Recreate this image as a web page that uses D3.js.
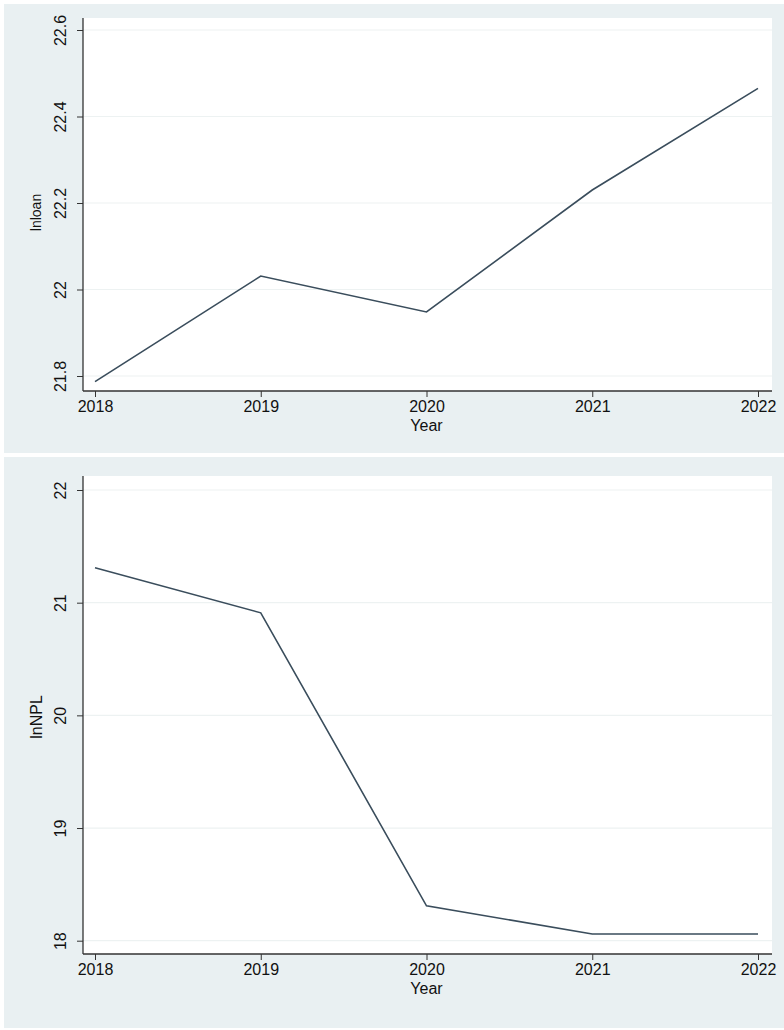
<!DOCTYPE html>
<html>
<head>
<meta charset="utf-8">
<script src="https://cdn.jsdelivr.net/npm/d3@7"></script>
<style>
  body { margin: 0; background: #fff; }
  svg text { font-family: "Liberation Sans", Arial, sans-serif; fill: #111; }
</style>
</head>
<body>
<svg id="chart" width="784" height="1030"></svg>
<script>
const years = [2018, 2019, 2020, 2021, 2022];
const lnloan = [21.787, 22.031, 21.948, 22.230, 22.465];
const lnNPL = [21.31, 20.91, 18.31, 18.06, 18.06];
const loanTicks = [21.8, 22, 22.2, 22.4, 22.6];
const nplTicks = [18, 19, 20, 21, 22];

const svg = d3.select('#chart');

// one Stata-style panel per series
const drawPanel = (cfg) => {
  const g = svg.append('g');

  g.append('rect')
    .attr('x', cfg.bx).attr('y', cfg.by)
    .attr('width', cfg.bw).attr('height', cfg.bh)
    .attr('fill', '#e9f0f2');

  g.append('rect')
    .attr('x', cfg.left).attr('y', cfg.top)
    .attr('width', cfg.right - cfg.left).attr('height', cfg.bottom - cfg.top)
    .attr('fill', '#fff');

  const x = d3.scaleLinear()
    .domain([2018, 2022])
    .range([95, 758]);

  const y = d3.scaleLinear()
    .domain(cfg.yDomain)
    .range(cfg.yRange);

  // grid
  g.append('g')
    .selectAll('line')
    .data(cfg.ticks)
    .join('line')
    .attr('x1', cfg.left).attr('x2', cfg.right)
    .attr('y1', d => y(d)).attr('y2', d => y(d))
    .attr('stroke', '#edf2f2')
    .attr('stroke-width', 1.2);

  const axisY = d3.axisLeft(y)
    .tickValues(cfg.ticks)
    .tickSize(6)
    .tickFormat(d3.format('~g'));

  const gy = g.append('g')
    .attr('transform', `translate(${cfg.left},0)`)
    .call(axisY);
  gy.select('.domain').remove();
  gy.selectAll('line').attr('stroke', '#333');
  // rotated tick labels, like Stata
  gy.selectAll('.tick text')
    .attr('transform', 'rotate(-90)')
    .attr('x', 0)
    .attr('y', -17)
    .attr('dy', '0')
    .attr('text-anchor', 'middle')
    .style('font-size', '16px');

  const axisX = d3.axisBottom(x)
    .tickValues(years)
    .tickSize(6)
    .tickPadding(4)
    .tickFormat(d3.format('d'));

  const gx = g.append('g')
    .attr('transform', `translate(0,${cfg.bottom})`)
    .call(axisX);
  gx.select('.domain').remove();
  gx.selectAll('line').attr('stroke', '#333');
  gx.selectAll('text')
    .style('font-size', '16px')
    .attr('fill', '#111');

  // axis lines
  g.append('line')
    .attr('x1', cfg.left).attr('x2', cfg.left)
    .attr('y1', cfg.top).attr('y2', cfg.bottom)
    .attr('stroke', '#333').attr('stroke-width', 1.3);
  g.append('line')
    .attr('x1', cfg.left).attr('x2', cfg.right)
    .attr('y1', cfg.bottom).attr('y2', cfg.bottom)
    .attr('stroke', '#333').attr('stroke-width', 1.3);

  g.append('text')
    .attr('x', (95 + 758) / 2)
    .attr('y', cfg.bottom + 40)
    .attr('text-anchor', 'middle')
    .style('font-size', '16px')
    .text('Year');

  g.append('text')
    .attr('transform', `translate(${cfg.titleX},${(cfg.top + cfg.bottom) / 2 + cfg.titleShift}) rotate(-90)`)
    .attr('text-anchor', 'middle')
    .style('font-size', cfg.titleSize)
    .text(cfg.title);

  const line = d3.line()
    .x((d, i) => x(years[i]))
    .y(d => y(d));

  g.append('path')
    .datum(cfg.values)
    .attr('d', line)
    .attr('fill', 'none')
    .attr('stroke', '#3a4d5c')
    .attr('stroke-width', 1.6);
};

drawPanel({
  bx: 4, by: 4, bw: 780, bh: 449,
  left: 83, right: 772, top: 18, bottom: 391,
  yDomain: [21.8, 22.6], yRange: [376, 30],
  ticks: loanTicks, values: lnloan,
  title: 'lnloan', titleX: 41, titleShift: 8, titleSize: '14px'
});

drawPanel({
  bx: 4, by: 457, bw: 780, bh: 571,
  left: 83, right: 772, top: 476, bottom: 954,
  yDomain: [18, 22], yRange: [940.7, 490],
  ticks: nplTicks, values: lnNPL,
  title: 'lnNPL', titleX: 42, titleShift: 2, titleSize: '16px'
});
</script>
</body>
</html>
